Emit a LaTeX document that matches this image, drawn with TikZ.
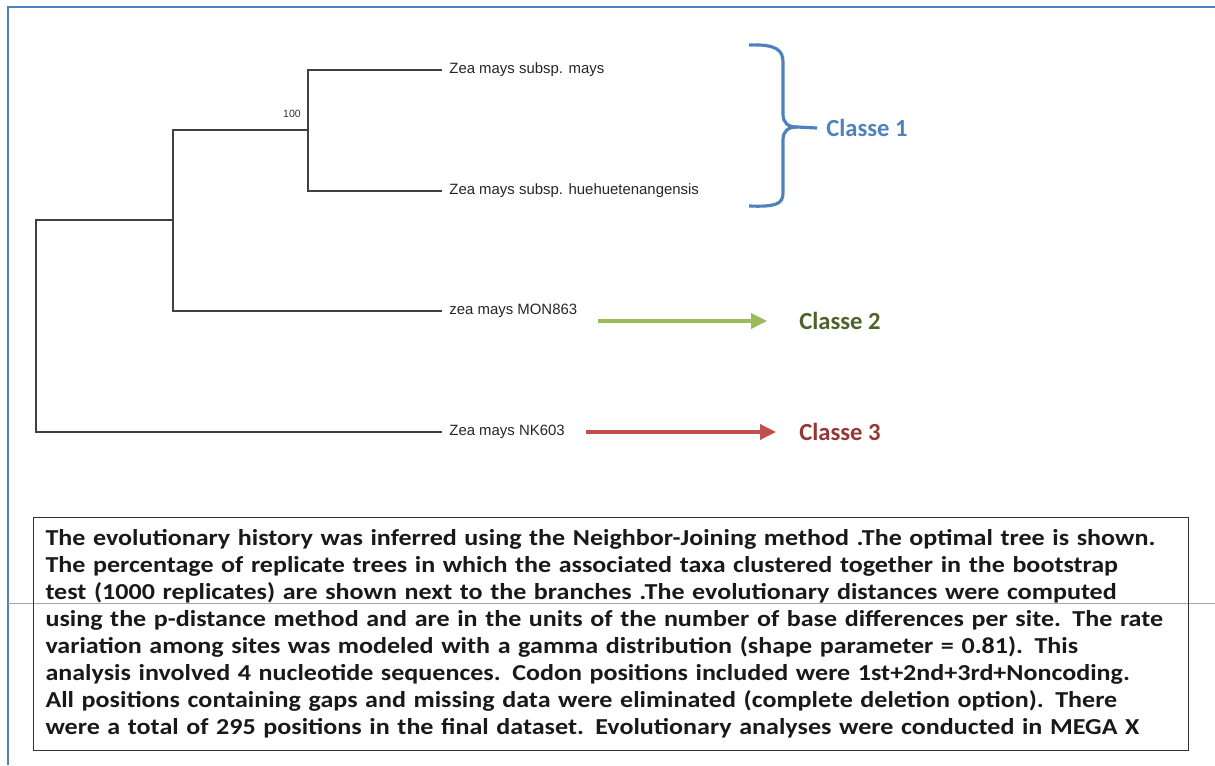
\documentclass[tikz,border=0pt]{standalone}
\usepackage{fontspec}
\setmainfont{Liberation Sans}
\newfontfamily\calibri{Carlito}
\newfontfamily\calibriwide[FakeStretch=1.14]{Carlito}
\definecolor{frblue}{RGB}{79,129,189}
\definecolor{clblue}{RGB}{79,129,189}
\definecolor{clgreen}{RGB}{155,187,89}
\definecolor{cldkgreen}{RGB}{79,98,40}
\definecolor{clred}{RGB}{192,80,77}
\definecolor{cldkred}{RGB}{149,55,53}
\usetikzlibrary{arrows.meta,positioning}

\begin{document}
\begin{tikzpicture}[x=0.02cm,y=-0.02cm,
  branch/.style={draw=black!75,line width=0.6pt},
  taxon/.style={anchor=west,inner xsep=4pt,inner ysep=1pt,font=\fontsize{8.5}{10}\selectfont,text=black!85},
  classe/.style={anchor=west,inner sep=0pt,font=\calibri\bfseries\fontsize{14}{16}\selectfont},
  pointer/.style={line width=1.8pt,-{Triangle[length=9pt,width=8.5pt]}}]
\useasboundingbox (0,0) rectangle (1215,765);
% page frame and guide line
\draw[frblue,line width=1.2pt] (8,765) -- (8,7) -- (1215,7);
\draw[black!35,line width=0.5pt] (8,603) -- (1215,603);
% tree
\coordinate (root) at (36,326);
\coordinate (n1) at (173,220);
\coordinate (n2) at (308,130);
\node[taxon] (t1) at (442,70) {Zea mays subsp. mays};
\node[taxon] (t2) at (442,191) {Zea mays subsp. huehuetenangensis};
\node[taxon] (t3) at (442,311) {zea mays MON863};
\node[taxon] (t4) at (442,432) {Zea mays NK603};
\node[font=\fontsize{6}{7}\selectfont,text=black!80] (boot) at (292,114) {100};
\draw[branch] (t1.west) -| (n2) |- (t2.west);
\draw[branch] (n2) -| (n1) |- (t3.west);
\draw[branch] (n1) -| (root) |- (t4.west);
% classes
\node[classe,text=clblue] (c1) at (826,128) {Classe 1};
\node[classe,text=cldkgreen] (c2) at (799,321) {Classe 2};
\node[classe,text=cldkred] (c3) at (799,432) {Classe 3};
\draw[clblue,line width=1.8pt] (749,45) .. controls (776,44) and (783,50) .. (783,62) -- (783,114)
  .. controls (783,123) and (788,127) .. (797,127) -- ([xshift=-0.18cm]c1.west);
\draw[clblue,line width=1.8pt] (797,127) .. controls (788,127) and (783,131) .. (783,140) -- (783,193)
  .. controls (783,204) and (776,207) .. (749,206);
\draw[pointer,clgreen,shorten <=0.26cm,shorten >=0.64cm] (t3.east |- c2.west) -- (c2.west);
\draw[pointer,clred,shorten <=0.28cm,shorten >=0.46cm] (t4.east) -- (c3.west);
% legend text
\node[draw=black!80,line width=0.6pt,anchor=north west,inner xsep=0.24cm,text width=22.62cm,minimum height=4.66cm,align=left,text=black!90,font=\calibriwide\bfseries\fontsize{13}{15.4}\selectfont] (note) at (33,517)
{The evolutionary history was inferred using the Neighbor-Joining method .The optimal tree is shown.\\
The percentage of replicate trees in which the associated taxa clustered together in the bootstrap\\
test (1000 replicates) are shown next to the branches .The evolutionary distances were computed\\
using the p-distance method and are in the units of the number of base differences per site. The rate\\
variation among sites was modeled with a gamma distribution (shape parameter = 0.81). This\\
analysis involved 4 nucleotide sequences. Codon positions included were 1st+2nd+3rd+Noncoding.\\
All positions containing gaps and missing data were eliminated (complete deletion option). There\\
were a total of 295 positions in the final dataset. Evolutionary analyses were conducted in MEGA X};
\end{tikzpicture}
\end{document}
